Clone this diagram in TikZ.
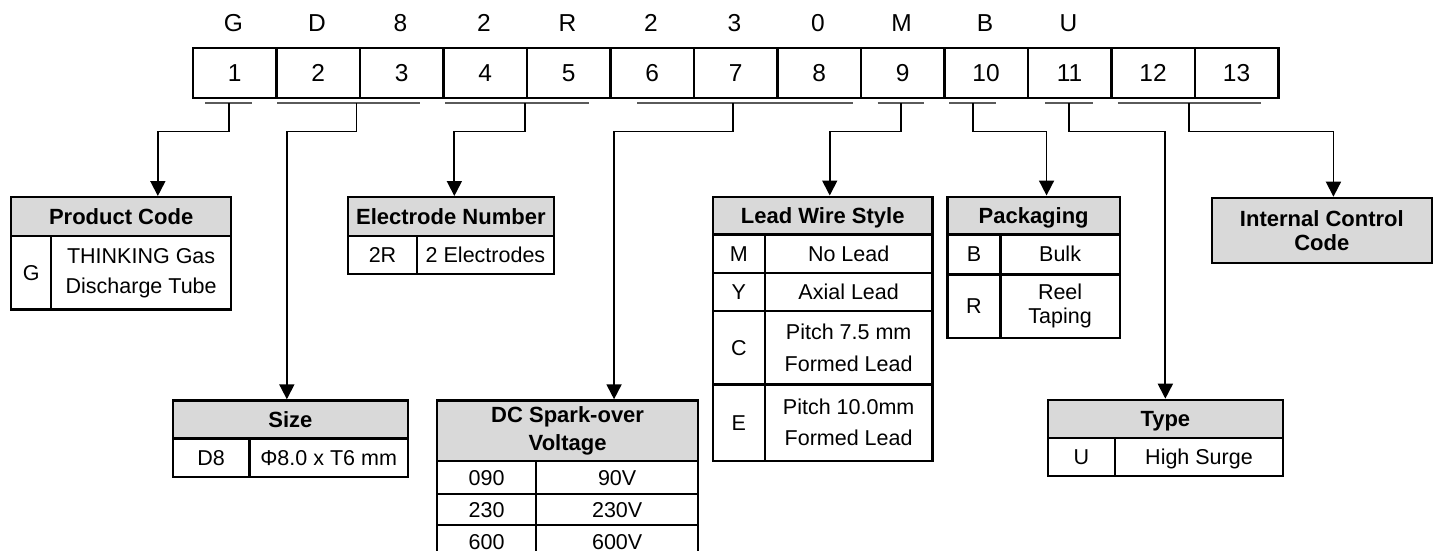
\documentclass[tikz,border=0pt]{standalone}
\usepackage{fontspec}
\setmainfont{Liberation Sans}
\usetikzlibrary{arrows.meta}
\definecolor{hdrgray}{RGB}{217,217,217}
\definecolor{ulgray}{RGB}{90,90,90}
\newcommand\tabcell[7]{\node[#6, minimum width={#4pt-#2pt}, minimum height={#5pt-#3pt}] (#1) at (#2,#3) {#7};}
\begin{document}
\begin{tikzpicture}[x=1pt,y=-1pt,
  cellbase/.style={draw, line width=2.3pt, inner sep=0pt, anchor=north west},
  cell/.style={cellbase, font=\fontsize{21.5}{25}\selectfont, text height=19.5pt, text depth=4.5pt},
  mcell/.style={cellbase, align=center, font=\fontsize{21.5}{#1}\selectfont},
  hcell/.style={cellbase, fill=hdrgray, font=\bfseries\fontsize{22}{25}\selectfont, text height=19.9pt, text depth=4.6pt},
  mhcell/.style={cellbase, fill=hdrgray, align=center, font=\bfseries\fontsize{22}{#1}\selectfont},
  digit/.style={cellbase, font=\fontsize{24.5}{28}\selectfont, text height=22.2pt, text depth=5.2pt},
  letter/.style={inner sep=0pt, anchor=base, font=\fontsize{24.5}{28}\selectfont},
  uline/.style={draw=ulgray, line width=2pt},
  conn/.style={line width=1.8pt, -{Triangle[width=15pt,length=15pt]}}]
\useasboundingbox (0,0) rectangle (1436,551);
\clip (0,0) rectangle (1436,551);

% code letters
\foreach \i/\l in {1/G,2/D,3/8,4/2,5/R,6/2,7/3,8/0,9/M,10/B,11/U}
  \node[letter] (l\i) at ({191.7+83.5*(\i-0.5)},32) {\l};
% position boxes
\foreach \i in {1,...,13}
  \node[digit, minimum width=83.5pt, minimum height=50pt] (h\i) at ({191.7+83.5*(\i-1)},46.7) {\i};

% underlines
\draw[uline] (205,103.3) -- (252,103.3);
\draw[uline] (277,103.3) -- (420,103.3);
\draw[uline] (445,103.3) -- (588.6,103.3);
\draw[uline] (637,103.3) -- (852.9,103.3);
\draw[uline] (877.5,103.3) -- (924.3,103.3);
\draw[uline] (949,103.3) -- (996.4,103.3);
\draw[uline] (1045,103.3) -- (1092.9,103.3);
\draw[uline] (1117.9,103.3) -- (1261,103.3);

\coordinate (s1) at (229,103.3);
\coordinate (s2) at (356.4,103.3);
\coordinate (s3) at (524.6,103.3);
\coordinate (s4) at (732.9,103.3);
\coordinate (s5) at (900.7,103.3);
\coordinate (s6) at (973.2,103.3);
\coordinate (s7) at (1068.6,103.3);
\coordinate (s8) at (1189,103.3);

% Product Code
\tabcell{pch}{10}{196}{230}{235}{hcell}{Product Code}
\tabcell{pc1}{10}{235}{50}{308.3}{cell}{G}
\tabcell{pc2}{50}{235}{230}{308.3}{mcell=30}{THINKING Gas\\Discharge Tube}

% Size
\tabcell{szh}{171.7}{399.3}{406.7}{437.3}{hcell}{Size}
\tabcell{sz1}{171.7}{437.3}{248.3}{476}{cell}{D8}
\tabcell{sz2}{248.3}{437.3}{406.7}{476}{cell}{Φ8.0 x T6 mm}

% Electrode Number
\tabcell{elh}{346.7}{196}{552.7}{235}{hcell}{Electrode Number}
\tabcell{el1}{346.7}{235}{416}{272.7}{cell}{2R}
\tabcell{el2}{416}{235}{552.7}{272.7}{cell}{2 Electrodes}

% DC Spark-over Voltage
\tabcell{dch}{436}{399.3}{697}{460}{mhcell=28}{DC Spark-over\\Voltage}
\tabcell{dc1a}{436}{460}{535}{492.7}{cell}{090}
\tabcell{dc1b}{535}{460}{697}{492.7}{cell}{90V}
\tabcell{dc2a}{436}{492.7}{535}{524}{cell}{230}
\tabcell{dc2b}{535}{492.7}{697}{524}{cell}{230V}
\tabcell{dc3a}{436}{524}{535}{557}{cell}{600}
\tabcell{dc3b}{535}{524}{697}{557}{cell}{600V}

% Lead Wire Style
\tabcell{lwh}{711.8}{195.5}{931.4}{233.3}{hcell}{Lead Wire Style}
\tabcell{lw1a}{711.8}{233.3}{763.6}{271.7}{cell}{M}
\tabcell{lw1b}{763.6}{233.3}{931.4}{271.7}{cell}{No Lead}
\tabcell{lw2a}{711.8}{271.7}{763.6}{310}{cell}{Y}
\tabcell{lw2b}{763.6}{271.7}{931.4}{310}{cell}{Axial Lead}
\tabcell{lw3a}{711.8}{310}{763.6}{383.3}{cell}{C}
\tabcell{lw3b}{763.6}{310}{931.4}{383.3}{mcell=32}{Pitch 7.5 mm\\Formed Lead}
\tabcell{lw4a}{711.8}{383.3}{763.6}{460}{cell}{E}
\tabcell{lw4b}{763.6}{383.3}{931.4}{460}{mcell=31}{Pitch 10.0mm\\Formed Lead}

% Packaging
\tabcell{pkh}{946.4}{195.5}{1118.6}{233.3}{hcell}{Packaging}
\tabcell{pk1a}{946.4}{233.3}{999.3}{273.3}{cell}{B}
\tabcell{pk1b}{999.3}{233.3}{1118.6}{273.3}{cell}{Bulk}
\tabcell{pk2a}{946.4}{273.3}{999.3}{336.7}{cell}{R}
\tabcell{pk2b}{999.3}{273.3}{1118.6}{336.7}{mcell=24.5}{Reel\\Taping}

% Type
\tabcell{tyh}{1046.7}{398.7}{1281.7}{436.7}{hcell}{Type}
\tabcell{ty1a}{1046.7}{436.7}{1114}{475}{cell}{U}
\tabcell{ty1b}{1114}{436.7}{1281.7}{475}{cell}{High Surge}

% Internal Control Code
\tabcell{icc}{1210.7}{196.7}{1430.7}{261.7}{mhcell=24}{Internal Control\\Code}

% connectors
\draw[conn] (s1) -- ++(0,28.2) -| ([xshift=36.7pt]pch.north);
\draw[conn] (s2) -- ++(0,28.2) -| ([xshift=-3.5pt]szh.north);
\draw[conn] (s3) -- ++(0,28.2) -| ([xshift=3.5pt]elh.north);
\draw[conn] (s4) -- ++(0,28.2) -| ([xshift=46.4pt]dch.north);
\draw[conn] (s5) -- ++(0,28.2) -| ([xshift=7pt]lwh.north);
\draw[conn] (s6) -- ++(0,28.2) -| ([xshift=12.9pt]pkh.north);
\draw[conn] (s7) -- ++(0,28.2) -| (tyh.north);
\draw[conn] (s8) -- ++(0,28.2) -| ([xshift=11.6pt]icc.north);
\end{tikzpicture}
\end{document}
